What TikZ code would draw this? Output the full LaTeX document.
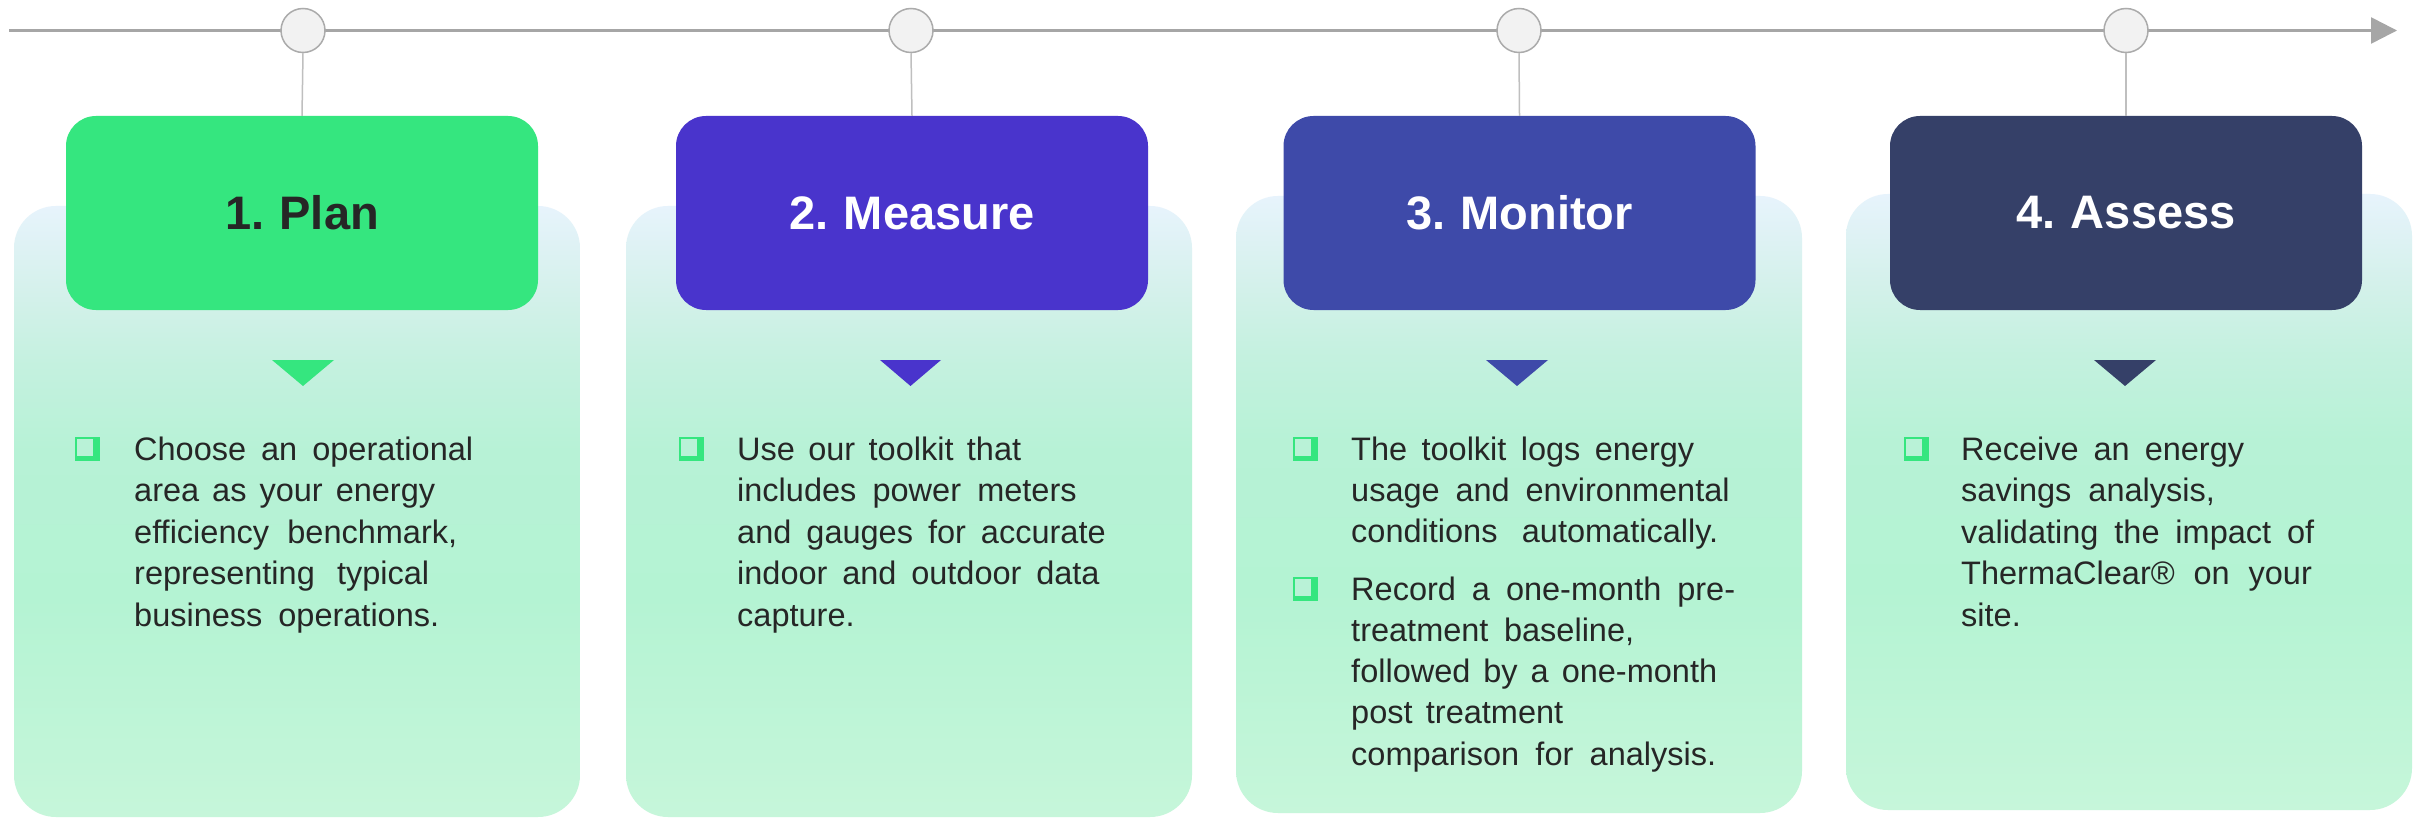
\documentclass[tikz,border=0pt]{standalone}
\usepackage{fontspec}
\setmainfont{Liberation Sans}
\usetikzlibrary{arrows.meta}
\definecolor{cPlan}{HTML}{35E67F}
\definecolor{cMeas}{HTML}{4934CC}
\definecolor{cMon}{HTML}{3E4AA9}
\definecolor{cAss}{HTML}{354068}
\definecolor{tline}{HTML}{A6A6A6}
\definecolor{circfill}{HTML}{F2F2F2}
\definecolor{circline}{HTML}{ABABAB}
\definecolor{conn}{HTML}{BFBFBF}
\definecolor{txt}{HTML}{262626}
\definecolor{bulin}{HTML}{B9F2D7}
\definecolor{pA}{HTML}{C6F6DA}
\definecolor{pB}{HTML}{B4F3D3}
\definecolor{pC}{HTML}{B7F2D6}
\definecolor{pD}{HTML}{C4F1DF}
\definecolor{pE}{HTML}{D2F1E9}
\definecolor{pF}{HTML}{E7F3FC}
\pgfdeclareverticalshading{panelshade}{100bp}{color(0bp)=(pA); color(25bp)=(pA); color(43bp)=(pB); color(55bp)=(pC); color(62bp)=(pD); color(67bp)=(pE); color(75bp)=(pF); color(100bp)=(pF)}
\newcommand{\hdrfont}{\fontsize{47}{56}\selectfont\bfseries}
\newcommand{\bodyfont}{\fontsize{32.5}{41.6}\selectfont}
\newcommand{\chk}[2]{%
  \fill[cPlan] (#1,#2-23) rectangle (#1+25,#2+1);
  \fill[bulin] (#1+2,#2-21) rectangle (#1+18,#2-4.5);}
\newcommand{\jl}[2]{\hbox to #1pt{#2}}
\tikzset{
  panel/.style={shading=panelshade, rounded corners=42pt},
  header/.style={rounded corners=30pt, minimum width=472pt, minimum height=194pt, inner sep=0pt, font=\hdrfont, text=white},
  stepdot/.style={circle, draw=circline, fill=circfill, line width=1.5pt, minimum size=44pt, inner sep=0pt},
  link/.style={draw=conn, line width=1.5pt},
  body/.style={anchor=base west, inner sep=0pt, font=\bodyfont, text=txt},
}
\begin{document}
\begin{tikzpicture}[x=1pt,y=-1pt]
\useasboundingbox (0,0) rectangle (2422,818);
\fill[white] (0,0) rectangle (2422,818);
% panels
\shade[panel] (14,206) rectangle (580,817);
\shade[panel] (626,206) rectangle (1192,817);
\shade[panel] (1236,196) rectangle (1802,813);
\shade[panel] (1846,194) rectangle (2412,810);
% timeline
\coordinate (tl0) at (9,30.5);
\coordinate (tl1) at (2397,30.5);
\draw[tline, line width=2.5pt, -{Triangle[length=26pt,width=26pt]}] (tl0) -- (tl1);
% circles
\node[stepdot] (c1) at (303,30.5) {};
\node[stepdot] (c2) at (911,30.5) {};
\node[stepdot] (c3) at (1519,30.5) {};
\node[stepdot] (c4) at (2126,30.5) {};
% headers
\node[header, fill=cPlan, text=txt] (h1) at (302,213) {1.\hspace{-2pt} Plan};
\node[header, fill=cMeas] (h2) at (912,213) {2.\hspace{-2pt} Measure};
\node[header, fill=cMon] (h3) at (1519.5,213) {3.\hspace{-2pt} Monitor};
\node[header, fill=cAss] (h4) at (2126,213) {4.\hspace{-2pt} Assess};
% connectors
\draw[link] (c1.south) -- (h1.north);
\draw[link] (c2.south) -- (h2.north);
\draw[link] (c3.south) -- (h3.north);
\draw[link] (c4.south) -- (h4.north);
% pointers
\fill[cPlan] (272,360) -- (334,360) -- (303,386) -- cycle;
\fill[cMeas] (880,360) -- (941,360) -- (910.5,386) -- cycle;
\fill[cMon] (1486,360) -- (1548,360) -- (1517,386) -- cycle;
\fill[cAss] (2094,360) -- (2156,360) -- (2125,386) -- cycle;
% bullets
\chk{75}{460}
\chk{679}{460}
\chk{1293}{460}
\chk{1293}{600}
\chk{1904}{460}
% texts
\node[body] (t1) at (134,460) {\vtop{\baselineskip=41.6pt
  \jl{339}{Choose an operational}
  \jl{301}{area as your energy}
  \jl{323}{efficiency benchmark,}
  \jl{295}{representing typical}
  \jl{305}{business operations.}}};
\node[body] (t2) at (737,460) {\vtop{\baselineskip=41.6pt
  \jl{284}{Use our toolkit that}
  \jl{339.5}{includes power meters}
  \jl{368.5}{and gauges for accurate}
  \jl{362.4}{indoor and outdoor data}
  \hbox{capture.}}};
\node[body] (t3a) at (1351,460) {\vtop{\baselineskip=41.3pt
  \jl{343}{The toolkit logs energy}
  \jl{378.5}{usage and environmental}
  \jl{367}{conditions automatically.}}};
\node[body] (t3b) at (1351,600) {\vtop{\baselineskip=41.3pt
  \jl{384}{Record a one-month pre-}
  \jl{283}{treatment baseline,}
  \jl{366}{followed by a one-month}
  \jl{212}{post treatment}
  \jl{365}{comparison for analysis.}}};
\node[body] (t4) at (1961,460) {\vtop{\baselineskip=41.6pt
  \jl{283}{Receive an energy}
  \jl{253.7}{savings analysis,}
  \jl{353}{validating the impact of}
  \jl{350.7}{ThermaClear® on your}
  \hbox{site.}}};
\end{tikzpicture}
\end{document}
